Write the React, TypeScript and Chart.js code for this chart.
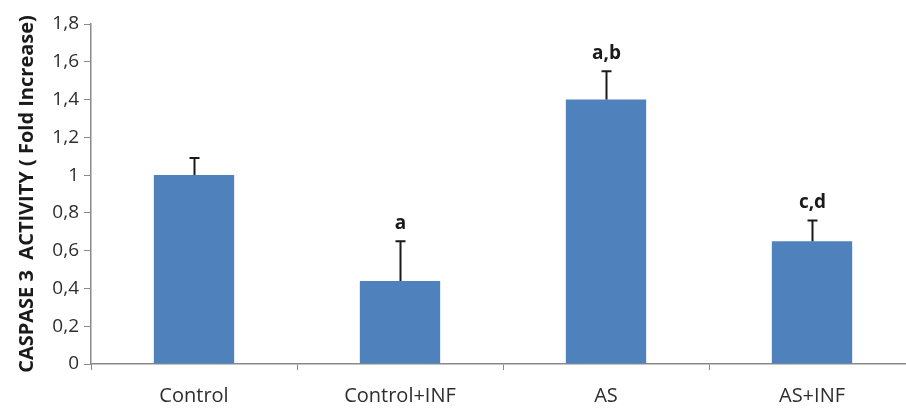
import React, { useEffect, useRef } from "react";
import { Chart, registerables } from "chart.js";

Chart.register(...registerables);

const categories = ["Control", "Control+INF", "AS", "AS+INF"];
const values = [1.0, 0.44, 1.4, 0.65];
const errors = [0.09, 0.21, 0.15, 0.11];
const letters = ["", "a", "a,b", "c,d"];
const yTicks = [0, 0.2, 0.4, 0.6, 0.8, 1, 1.2, 1.4, 1.6, 1.8];

const FONT = "'Open Sans', 'DejaVu Sans', sans-serif";

const errorBarPlugin = {
  id: "errorBars",
  afterDatasetsDraw(chart: any) {
    const ctx = chart.ctx;
    const meta = chart.getDatasetMeta(0);
    const y = chart.scales.y;
    ctx.save();
    meta.data.forEach((bar: any, i: number) => {
      const x = Math.round(bar.x) + 0.5;
      const yTop = y.getPixelForValue(values[i] + errors[i]);
      const yBase = y.getPixelForValue(values[i]);
      ctx.strokeStyle = "#1a1a1a";
      ctx.lineWidth = 2;
      ctx.beginPath();
      ctx.moveTo(x, yBase);
      ctx.lineTo(x, yTop);
      ctx.moveTo(x - 5, yTop);
      ctx.lineTo(x + 5, yTop);
      ctx.stroke();
      if (letters[i]) {
        ctx.fillStyle = "#1a1a1a";
        ctx.font = `bold 19px ${FONT}`;
        ctx.textAlign = "center";
        ctx.textBaseline = "alphabetic";
        ctx.fillText(letters[i], x, yTop - 12);
      }
    });
    ctx.restore();
  },
};

export default function App() {
  const ref = useRef<HTMLCanvasElement | null>(null);

  useEffect(() => {
    if (!ref.current) return;
    const chart = new Chart(ref.current, {
      type: "bar",
      data: {
        labels: categories,
        datasets: [
          {
            data: values,
            backgroundColor: "#4F81BD",
            borderWidth: 0,
            categoryPercentage: 1,
            barPercentage: 0.39,
          },
        ],
      },
      options: {
        animation: false,
        responsive: false,
        layout: { padding: { top: 24, right: 9, left: 0, bottom: 0 } },
        plugins: {
          legend: { display: false },
          tooltip: { enabled: false },
        },
        scales: {
          x: {
            grid: {
              offset: true,
              drawOnChartArea: false,
              drawTicks: true,
              tickLength: 6,
              color: "#8a8a8a",
            },
            border: { color: "#8a8a8a", width: 1.5 },
            ticks: {
              color: "#2e2e2e",
              font: { family: FONT, size: 20 },
              padding: 14,
              maxRotation: 0,
            },
            afterFit(scale: any) {
              scale.height = 46;
            },
          },
          y: {
            min: 0,
            max: 1.8,
            afterBuildTicks(scale: any) {
              scale.ticks = yTicks.map((v) => ({ value: v }));
            },
            grid: {
              drawOnChartArea: false,
              drawTicks: true,
              tickLength: 7,
              color: "#8a8a8a",
            },
            border: { color: "#8a8a8a", width: 1.5 },
            ticks: {
              color: "#2e2e2e",
              font: { family: FONT, size: 19 },
              padding: 5,
              callback: (v: any) => String(Math.round(Number(v) * 10) / 10).replace(".", ","),
            },
            title: {
              display: true,
              text: "CASPASE 3  ACTIVITY ( Fold Increase)",
              color: "#1a1a1a",
              font: { family: FONT, size: 20, weight: "bold" },
              padding: { top: 15, bottom: 0 },
            },
            afterFit(scale: any) {
              scale.width = 91;
            },
          },
        },
      },
      plugins: [errorBarPlugin],
    } as any);
    return () => chart.destroy();
  }, []);

  return (
    <div
      style={{
        position: "fixed",
        left: 0,
        top: 0,
        width: 906,
        height: 410,
        overflow: "hidden",
        background: "#fff",
      }}
    >
      <div style={{ width: 924, height: 410 }}>
        <canvas ref={ref} width={924} height={410} />
      </div>
    </div>
  );
}
